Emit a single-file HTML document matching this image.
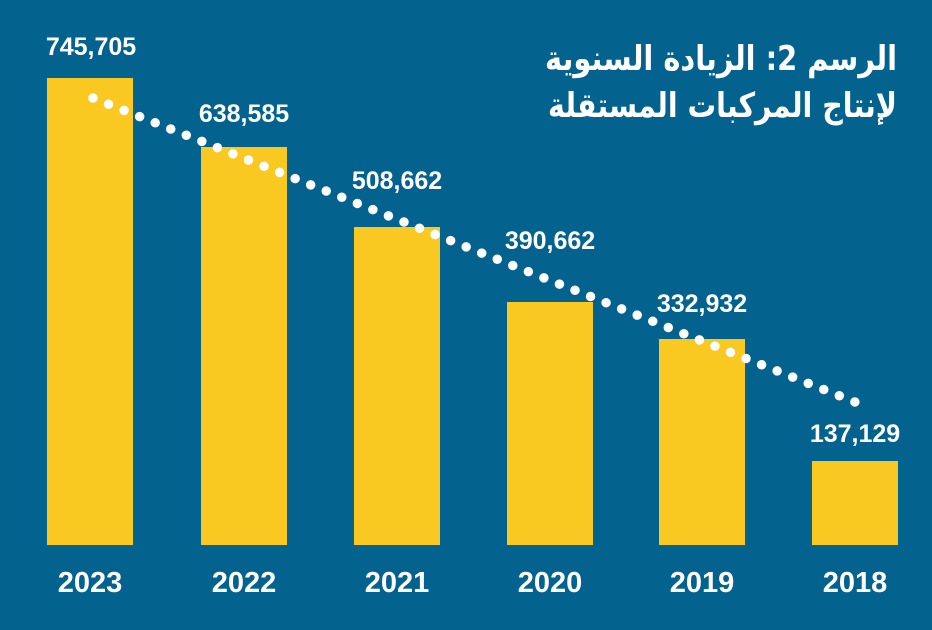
<!DOCTYPE html>
<html><head><meta charset="utf-8"><style>
body{margin:0;width:932px;height:625px;background:#04628f;overflow:hidden;font-family:"Liberation Sans","DejaVu Sans",sans-serif}
</style></head><body>
<svg width="932" height="625" xmlns="http://www.w3.org/2000/svg">
<rect width="932" height="625" fill="#04628f"/>
<g fill="#f9c922">
<rect x="47" y="78" width="86" height="467"/>
<rect x="201" y="147" width="86" height="398"/>
<rect x="354" y="227" width="86" height="318"/>
<rect x="507" y="302" width="86" height="243"/>
<rect x="659" y="339" width="86" height="206"/>
<rect x="812" y="461" width="86" height="84"/>
</g>
<line x1="93" y1="98" x2="855" y2="402" stroke="#fff" stroke-width="9.5" stroke-linecap="round" stroke-dasharray="0 16.74"/>
<g fill="#fff" font-weight="bold" font-size="25" text-anchor="middle" font-family="Liberation Sans, sans-serif">
<text x="91" y="55">745,705</text>
<text x="244" y="122">638,585</text>
<text x="397" y="189">508,662</text>
<text x="550" y="249">390,662</text>
<text x="702" y="312">332,932</text>
<text x="855" y="442">137,129</text>
</g>
<g fill="#fff" font-weight="bold" font-size="29" text-anchor="middle">
<text x="90" y="592">2023</text>
<text x="244" y="592">2022</text>
<text x="397" y="592">2021</text>
<text x="550" y="592">2020</text>
<text x="702" y="592">2019</text>
<text x="855" y="592">2018</text>
</g>
<g fill="#fff" font-weight="bold" font-size="34" font-family="DejaVu Sans, Noto Sans CJK SC, sans-serif">
<text x="897" y="70" textLength="352" lengthAdjust="spacingAndGlyphs" direction="rtl" unicode-bidi="embed">الرسم 2: الزيادة السنوية</text>
<text x="897" y="117" textLength="349" lengthAdjust="spacingAndGlyphs" direction="rtl" unicode-bidi="embed">لإنتاج المركبات المستقلة</text>
</g>
</svg>
</body></html>
